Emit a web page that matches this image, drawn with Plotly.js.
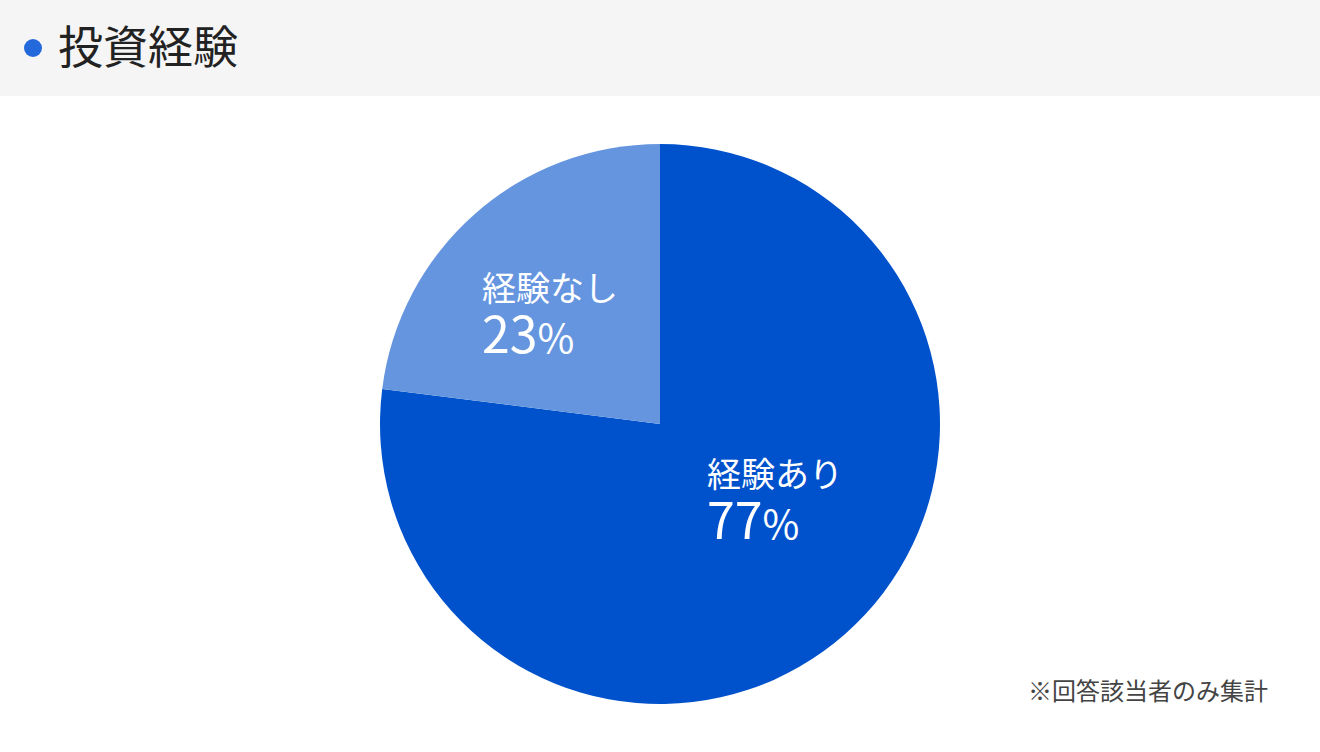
<!DOCTYPE html>
<html>
<head>
<meta charset="utf-8">
<script src="https://cdn.plot.ly/plotly-3.0.1.min.js"></script>
<style>
  html, body { margin: 0; padding: 0; background: #fff; }
  #chart { width: 1320px; height: 752px; }
</style>
</head>
<body>
<div id="chart"></div>
<script>
'use strict';
/* 投資経験 */
var labels = ['経験あり', '経験なし'];
var values = [77, 23];
var colors = ['#0052cc', '#6595df'];

var title = '投資経験';
var note = '※回答該当者のみ集計';

var W = 1320, H = 752;
var font = '"Noto Sans CJK JP", "Noto Sans", sans-serif';

function px(x) { return x / W; }
function py(y) { return 1 - y / H; }

var pie_data = [
{
  type: 'pie',
  values: values,
  labels: labels,
  sort: false,
  direction: 'clockwise',
  rotation: 0,
  textinfo: 'none',
  hoverinfo: 'label+percent',
  marker: { colors: colors, line: { width: 0 } },
  domain: { x: [px(380), px(940)], y: [py(704), py(144)] }
}];

// label spots for each slice (left edge, block middle y)
var spots = [[705, 500], [480, 314]];

var total = values.reduce(function (a, b) { return a + b; }, 0);
var annotations = labels.map(function (lab, i) {
  var pct = Math.round(values[i] / total * 100);
  return {
    xref: 'paper', yref: 'paper', x: px(spots[i][0]), y: py(spots[i][1]),
    xanchor: 'left', yanchor: 'middle', align: 'left', showarrow: false,
    text: '<span style="font-size:34px">' + lab + '</span><br>' +
          '<span style="font-size:50px">' + pct + '</span>' +
          '<span style="font-size:40px">%</span>',
    font: { family: font, size: 40, color: '#fff' }
  };
});

annotations.push({
  xref: 'paper', yref: 'paper', x: px(1270), y: py(689),
  xanchor: 'right', yanchor: 'middle', showarrow: false,
  text: note, font: { family: font, size: 24, color: '#444' }
});

var layout = {
  width: W,
  height: H,
  margin: { l: 0, r: 0, t: 0, b: 0 },
  paper_bgcolor: '#fff',
  showlegend: false,
  title: {
    text: title,
    x: px(58), xanchor: 'left', xref: 'paper',
    y: py(48), yanchor: 'middle', yref: 'paper',
    font: { family: font, size: 45, color: '#222' }
  },
  shapes: [
    { type: 'rect', xref: 'paper', yref: 'paper', x0: 0, x1: 1, y0: py(96), y1: 1,
      fillcolor: '#f5f5f5', line: { width: 0 }, layer: 'below' },
    { type: 'circle', xref: 'paper', yref: 'paper',
      x0: px(24), x1: px(42), y0: py(57), y1: py(39),
      fillcolor: '#2469dc', line: { width: 0 } }
  ],
  annotations: annotations
};

Plotly.newPlot('chart', pie_data, layout, { displayModeBar: false, staticPlot: true });
</script>
</body>
</html>
